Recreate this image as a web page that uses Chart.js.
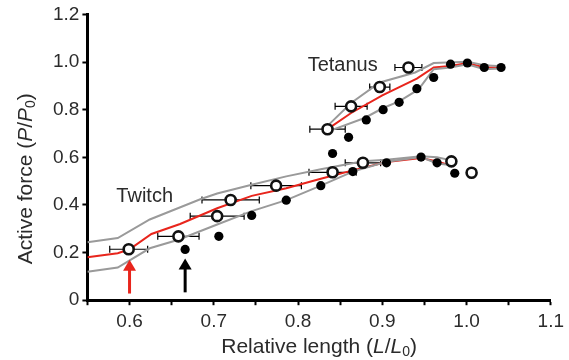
<!DOCTYPE html>
<html><head><meta charset="utf-8">
<script src="https://cdn.jsdelivr.net/npm/chart.js@4/dist/chart.umd.min.js"></script>
<style>html,body{margin:0;padding:0;background:#fff}#wrap{width:569px;height:360px}</style>
</head><body><div id="wrap"><canvas id="c"></canvas></div>
<script>
// ---- Data ----
const xTickLabels = ['0.6','0.7','0.8','0.9','1.0','1.1'];
const yTickLabels = ['0','0.2','0.4','0.6','0.8','1.0','1.2'];

// Tetanus
const tetOpenX   = [0.835, 0.863, 0.897, 0.931];
const tetOpenY   = [0.718, 0.814, 0.895, 0.977];
const tetOpenErr = [0.021, 0.019, 0.012, 0.016];
const tetFillX   = [0.841, 0.860, 0.881, 0.901, 0.920, 0.941, 0.961, 0.981, 1.001, 1.021, 1.041];
const tetFillY   = [0.616, 0.684, 0.757, 0.800, 0.831, 0.888, 0.935, 0.991, 0.996, 0.977, 0.977];
const tetMeanX   = [0.835, 0.863, 0.900, 0.941, 0.961, 0.981, 1.001, 1.021, 1.041];
const tetMeanY   = [0.718, 0.786, 0.860, 0.930, 0.977, 0.983, 0.996, 0.977, 0.977];
const tetUpX     = [0.835, 0.863, 0.897, 0.939, 0.961, 1.001, 1.021, 1.041];
const tetUpY     = [0.732, 0.828, 0.914, 0.956, 0.996, 1.001, 0.987, 0.982];
const tetLoX     = [0.835, 0.879, 0.901, 0.920, 0.943, 0.961, 0.981, 1.001, 1.021, 1.041];
const tetLoY     = [0.708, 0.765, 0.807, 0.835, 0.885, 0.970, 0.977, 0.991, 0.970, 0.973];

// Twitch
const twOpenX   = [0.599, 0.658, 0.704, 0.720, 0.774, 0.841, 0.877, 0.982, 1.006];
const twOpenY   = [0.214, 0.268, 0.353, 0.421, 0.481, 0.537, 0.577, 0.583, 0.535];
const twOpenErr = [0.0225, 0.0245, 0.032, 0.034, 0.030, 0.028, 0.021, 0, 0];
const twFillX   = [0.666, 0.706, 0.745, 0.786, 0.827, 0.865, 0.905, 0.946, 0.965, 0.986];
const twFillY   = [0.213, 0.268, 0.356, 0.420, 0.481, 0.540, 0.577, 0.601, 0.577, 0.533];
const twMeanX   = [0.55, 0.586, 0.600, 0.626, 0.660, 0.704, 0.745, 0.786, 0.827, 0.865, 0.905, 0.946, 0.965, 0.985];
const twMeanY   = [0.180, 0.197, 0.214, 0.278, 0.320, 0.386, 0.438, 0.470, 0.510, 0.545, 0.580, 0.597, 0.583, 0.562];
const twUpX     = [0.55, 0.586, 0.624, 0.684, 0.704, 0.745, 0.786, 0.827, 0.877, 0.905, 0.946, 0.965, 0.982];
const twUpY     = [0.243, 0.261, 0.339, 0.424, 0.448, 0.485, 0.520, 0.550, 0.583, 0.590, 0.604, 0.600, 0.587];
const twLoX     = [0.55, 0.586, 0.624, 0.658, 0.704, 0.745, 0.786, 0.827, 0.865, 0.905, 0.946, 0.965, 0.986];
const twLoY     = [0.119, 0.137, 0.218, 0.254, 0.318, 0.374, 0.420, 0.481, 0.540, 0.581, 0.601, 0.574, 0.566];

// Annotations
const labelNames = ['Tetanus', 'Twitch'];
const labelX = [0.853, 0.618];
const labelY = [0.987, 0.434];
const arrowX = [0.600, 0.666];
const arrowTipY = [0.170, 0.175];
const arrowBaseY = [0.028, 0.033];

// ---- Helpers ----
const pts = (xs, ys) => xs.map((x, i) => ({x: x, y: ys[i]}));
const FONT = '"Liberation Sans", Arial, sans-serif';
const TXT = '#2b2b2b';
const RED = '#e8251c';
const GREY = '#9a9a9a';

function lineDs(xs, ys, color) {
  return {type: 'scatter', data: pts(xs, ys), showLine: true, borderColor: color,
    borderWidth: 2, pointRadius: 0, pointHoverRadius: 0, fill: false, order: 5};
}
function openDs(xs, ys) {
  return {type: 'scatter', data: pts(xs, ys), pointRadius: 5, pointBorderWidth: 2.6,
    pointBackgroundColor: '#ffffff', pointBorderColor: '#111', showLine: false, order: 1};
}
function fillDs(xs, ys) {
  return {type: 'scatter', data: pts(xs, ys), pointRadius: 4.6, pointBorderWidth: 0,
    pointBackgroundColor: '#000', pointBorderColor: '#000', showLine: false, order: 2};
}

function drawRich(ctx, parts, cx, cy, angle) {
  ctx.save();
  ctx.translate(cx, cy);
  ctx.rotate(angle);
  ctx.fillStyle = TXT;
  ctx.textBaseline = 'middle';
  ctx.textAlign = 'left';
  const fontOf = p => (p.italic ? 'italic ' : '') + (p.sub ? '14px ' : '21px ') + FONT;
  let w = 0;
  parts.forEach(p => { ctx.font = fontOf(p); w += ctx.measureText(p.t).width; });
  let x = -w / 2;
  parts.forEach(p => {
    ctx.font = fontOf(p);
    ctx.fillText(p.t, x, p.sub ? 5 : 0);
    x += ctx.measureText(p.t).width;
  });
  ctx.restore();
}

const extras = {
  id: 'extras',
  beforeDatasetsDraw(chart) {
    const ctx = chart.ctx, xs = chart.scales.x, ys = chart.scales.y;
    ctx.save();
    ctx.strokeStyle = '#000';
    ctx.lineWidth = 1.2;
    const bars = (X, Y, E) => X.forEach((x, i) => {
      if (!E[i]) return;
      const x0 = xs.getPixelForValue(x - E[i]), x1 = xs.getPixelForValue(x + E[i]);
      const y = ys.getPixelForValue(Y[i]);
      ctx.beginPath();
      ctx.moveTo(x0, y); ctx.lineTo(x1, y);
      ctx.moveTo(x0, y - 3.5); ctx.lineTo(x0, y + 3.5);
      ctx.moveTo(x1, y - 3.5); ctx.lineTo(x1, y + 3.5);
      ctx.stroke();
    });
    bars(tetOpenX, tetOpenY, tetOpenErr);
    bars(twOpenX, twOpenY, twOpenErr);
    ctx.restore();
  },
  afterDraw(chart) {
    const ctx = chart.ctx, xs = chart.scales.x, ys = chart.scales.y, a = chart.chartArea;
    // arrows
    const colors = [RED, '#000'];
    arrowX.forEach((x, i) => {
      const px = xs.getPixelForValue(x);
      const tip = ys.getPixelForValue(arrowTipY[i]);
      const base = ys.getPixelForValue(arrowBaseY[i]);
      ctx.save();
      ctx.strokeStyle = colors[i]; ctx.fillStyle = colors[i];
      ctx.lineWidth = 3;
      ctx.beginPath(); ctx.moveTo(px, base); ctx.lineTo(px, tip + 8); ctx.stroke();
      ctx.beginPath(); ctx.moveTo(px, tip); ctx.lineTo(px - 6.5, tip + 11); ctx.lineTo(px + 6.5, tip + 11);
      ctx.closePath(); ctx.fill();
      ctx.restore();
    });
    // labels
    ctx.save();
    ctx.fillStyle = TXT;
    ctx.font = '20px ' + FONT;
    ctx.textAlign = 'center'; ctx.textBaseline = 'middle';
    labelNames.forEach((t, i) => ctx.fillText(t, xs.getPixelForValue(labelX[i]), ys.getPixelForValue(labelY[i])));
    ctx.restore();
    // axis titles
    drawRich(ctx, [{t: 'Relative length ('}, {t: 'L', italic: true}, {t: '/'}, {t: 'L', italic: true}, {t: '0', sub: true}, {t: ')'}],
      (a.left + a.right) / 2, chart.height - 13, 0);
    drawRich(ctx, [{t: 'Active force ('}, {t: 'P', italic: true}, {t: '/'}, {t: 'P', italic: true}, {t: '0', sub: true}, {t: ')'}],
      26, a.top + (a.bottom - a.top) * 0.575, -Math.PI / 2);
  }
};

new Chart(document.getElementById('c'), {
  type: 'scatter',
  data: {
    datasets: [
      lineDs(twUpX, twUpY, GREY),
      lineDs(twLoX, twLoY, GREY),
      lineDs(tetUpX, tetUpY, GREY),
      lineDs(tetLoX, tetLoY, GREY),
      lineDs(twMeanX, twMeanY, RED),
      lineDs(tetMeanX, tetMeanY, RED),
      fillDs(twFillX, twFillY),
      fillDs(tetFillX, tetFillY),
      openDs(twOpenX, twOpenY),
      openDs(tetOpenX, tetOpenY)
    ]
  },
  options: {
    responsive: true,
    maintainAspectRatio: false,
    animation: false,
    events: [],
    layout: {padding: {left: 50, right: 14, top: 12, bottom: 22}},
    plugins: {legend: {display: false}, tooltip: {enabled: false}},
    scales: {
      x: {
        type: 'linear', min: 0.55, max: 1.1,
        border: {display: true, color: '#000', width: 3},
        grid: {display: true, drawOnChartArea: false, drawTicks: true, tickLength: 5, tickColor: '#000', tickWidth: 2},
        ticks: {
          stepSize: 0.05, autoSkip: false, maxRotation: 0, padding: 5,
          color: TXT, font: {size: 19, family: FONT},
          callback: v => { const r = Math.round(v * 100); return r % 10 === 0 ? xTickLabels[(r - 60) / 10] || '' : ''; }
        },
        afterBuildTicks: s => { s.ticks = []; for (let k = 55; k <= 110; k += 5) s.ticks.push({value: k / 100}); }
      },
      y: {
        type: 'linear', min: 0, max: 1.2,
        border: {display: true, color: '#000', width: 3},
        grid: {display: true, drawOnChartArea: false, drawTicks: true, tickLength: 5, tickColor: '#000', tickWidth: 2},
        ticks: {
          stepSize: 0.2, padding: 3, color: TXT, font: {size: 19, family: FONT},
          callback: v => yTickLabels[Math.round(v * 5)]
        }
      }
    }
  },
  plugins: [extras]
});
</script>
</body></html>
